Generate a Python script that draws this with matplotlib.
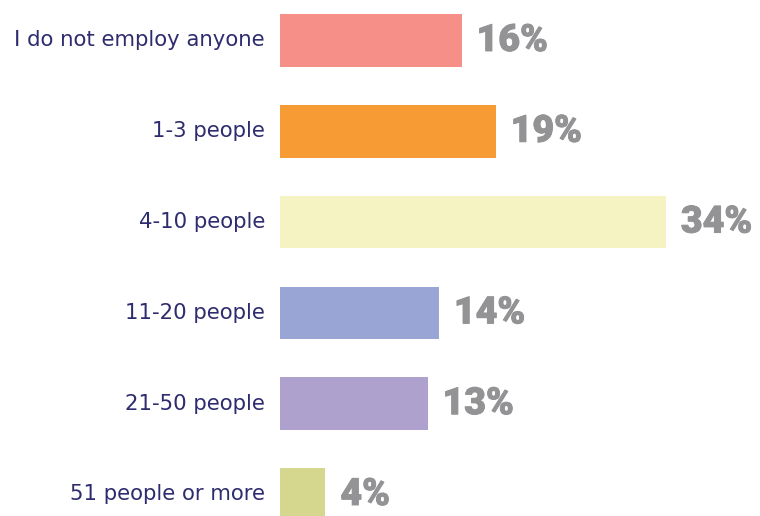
import matplotlib.pyplot as plt
import matplotlib.patheffects as pe

categories = ["I do not employ anyone", "1-3 people", "4-10 people",
              "11-20 people", "21-50 people", "51 people or more"]
shares = [16, 19, 34, 14, 13, 4]
colors = ["#F58F87", "#F79C35", "#F4F3C1", "#98A5D5", "#AFA1CD", "#D4D78D"]

fig = plt.figure(figsize=(7.6, 5.16), dpi=100)
# axes spans the full height; bars start at x=280px
ax = fig.add_axes([280 / 760, 0, 454 / 760, 1])

pos = list(range(len(categories)))
ax.barh(pos, shares, height=0.58, color=colors)
ax.set_xlim(0, 40)
ax.set_ylim(5.237, -0.446)
ax.axis("off")

# thicken the value labels slightly
heavy = [pe.withStroke(linewidth=0.7, foreground="#939395")]

for i, (cat, val) in enumerate(zip(categories, shares)):
    ax.annotate(cat, xy=(0, i), xytext=(-15, 0), textcoords="offset pixels",
                ha="right", va="center", fontsize=15.3, color="#2E2C6E",
                family="DejaVu Sans")
    ax.annotate(f"{val}%", xy=(val, i), xytext=(15, 0), textcoords="offset pixels",
                ha="left", va="center", fontsize=27, color="#939395",
                family="Roboto", fontweight="black", path_effects=heavy)

fig.savefig("out.png", dpi=100)
